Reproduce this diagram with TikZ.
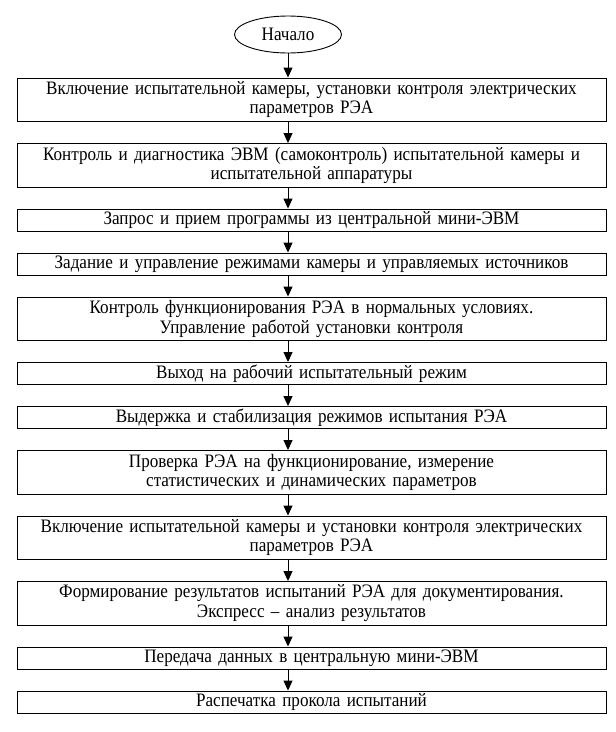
\documentclass[tikz,border=0pt]{standalone}
\usepackage{fontspec}
\setmainfont{Liberation Serif}[FakeStretch=0.9]
\usepackage{tikz}
\usetikzlibrary{shapes.geometric, arrows.meta, positioning, calc}

\begin{document}
\begin{tikzpicture}[
                node distance=21.1pt,
                startnode/.style={ellipse, draw, line width=0.9pt, minimum width=107pt, minimum height=37pt, inner sep=1pt, font=\fontsize{19}{19.5}\selectfont},
                block/.style={rectangle, draw, line width=0.9pt, minimum width=589pt, minimum height=22pt, text width=575pt, inner sep=1pt, align=center, font=\fontsize{19}{19.5}\selectfont},
                tallblock/.style={block, minimum height=43.5pt},
                arr/.style={-{Triangle[length=10pt,width=9pt]}, line width=0.9pt}
            ]
                \useasboundingbox (0,0) rectangle (616pt,-732pt);
                \node[startnode] (start) at (288pt,-34.5pt) {Начало};
                \node[tallblock, below=24.1pt of start, xshift=23.5pt] (vkl) {Включение испытательной камеры, установки контроля электрических\\параметров РЭА};
                \node[tallblock, below=of vkl] (diag) {Контроль и диагностика ЭВМ (самоконтроль) испытательной камеры и\\испытательной аппаратуры};
                \node[block, below=of diag] (zapros) {Запрос и прием программы из центральной мини-ЭВМ};
                \node[block, below=of zapros] (zadanie) {Задание и управление режимами камеры и управляемых источников};
                \node[tallblock, below=of zadanie] (funk) {Контроль функционирования РЭА в нормальных условиях.\\Управление работой установки контроля};
                \node[block, below=of funk] (vyhod) {Выход на рабочий испытательный режим};
                \node[block, below=of vyhod] (vyderzhka) {Выдержка и стабилизация режимов испытания РЭА};
                \node[tallblock, below=of vyderzhka] (proverka) {Проверка РЭА на функционирование, измерение\\статистических и динамических параметров};
                \node[tallblock, below=of proverka] (vkl2) {Включение испытательной камеры и установки контроля электрических\\параметров РЭА};
                \node[tallblock, below=of vkl2] (form) {Формирование результатов испытаний РЭА для документирования.\\Экспресс -- анализ результатов};
                \node[block, below=of form] (peredacha) {Передача данных в центральную мини-ЭВМ};
                \node[block, below=of peredacha] (pechat) {Распечатка прокола испытаний};

                \draw[arr] (start) -- (start |- vkl.north);
                \draw[arr] (vkl.south -| start) -- (diag.north -| start);
                \draw[arr] (diag.south -| start) -- (zapros.north -| start);
                \draw[arr] (zapros.south -| start) -- (zadanie.north -| start);
                \draw[arr] (zadanie.south -| start) -- (funk.north -| start);
                \draw[arr] (funk.south -| start) -- (vyhod.north -| start);
                \draw[arr] (vyhod.south -| start) -- (vyderzhka.north -| start);
                \draw[arr] (vyderzhka.south -| start) -- (proverka.north -| start);
                \draw[arr] (proverka.south -| start) -- (vkl2.north -| start);
                \draw[arr] (vkl2.south -| start) -- (form.north -| start);
                \draw[arr] (form.south -| start) -- (peredacha.north -| start);
                \draw[arr] (peredacha.south -| start) -- (pechat.north -| start);
            \end{tikzpicture}
\end{document}
